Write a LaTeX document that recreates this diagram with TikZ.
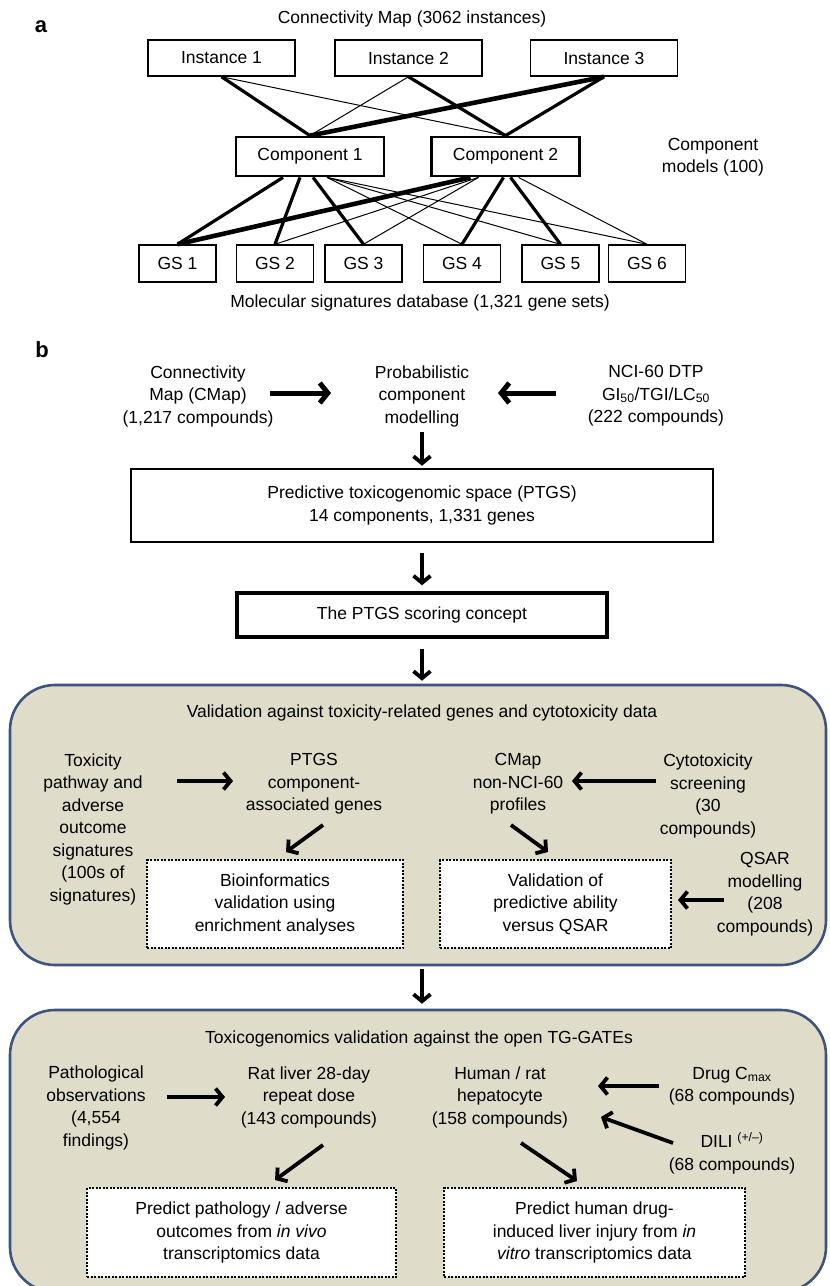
\documentclass[tikz,border=0pt]{standalone}
\usepackage{fontspec}
\setmainfont{Liberation Sans}
\usetikzlibrary{arrows.meta}

\definecolor{panelfill}{RGB}{223,220,202}
\definecolor{panelline}{RGB}{62,84,125}

\tikzset{
  lbl/.style={font=\fontsize{17.5}{22.5}\selectfont, align=center, inner sep=0pt},
  tag/.style={font=\fontsize{22}{22}\selectfont\bfseries, inner sep=0pt},
  inst/.style={lbl, draw, line width=1.5pt, minimum width=147pt, minimum height=36pt},
  comp/.style={lbl, draw, line width=2.8pt, minimum width=148pt, minimum height=39pt},
  gs/.style={lbl, draw, line width=1.5pt, minimum width=77pt, minimum height=37pt},
  linkweak/.style={line width=1pt},
  linkstrong/.style={line width=3.2pt},
  linkmax/.style={line width=4.6pt},
  panel/.style={draw=panelline, fill=panelfill, line width=2.6pt, rounded corners=45pt, inner sep=0pt},
  dotbox/.style={lbl, draw, fill=white, line width=2pt, dash pattern=on 2pt off 1.5pt},
  arr/.style={line width=3.8pt, -{Straight Barb[length=7pt,width=17pt]}},
  bigarr/.style={line width=5pt, -{Straight Barb[length=8pt,width=20pt]}}
}

\begin{document}
\begin{tikzpicture}[x=1pt,y=-1pt]
\useasboundingbox (0,0) rectangle (830,1286);

% panel a
\node[tag] (taga) at (41,27) {a};
\node[lbl] (cmaptitle) at (412,19) {Connectivity Map (3062 instances)};
\node[inst] (i1) at (221.5,58) {Instance 1};
\node[inst] (i2) at (408.5,58) {Instance 2};
\node[inst] (i3) at (604,58) {Instance 3};
\node[comp] (c1) at (310,156.5) {Component 1};
\node[comp] (c2) at (505.5,156.5) {Component 2};
\node[lbl] (compmodels) at (713,157) {Component\\models (100)};
\node[gs] (g1) at (177.5,263.5) {GS 1};
\node[gs] (g2) at (275,263.5) {GS 2};
\node[gs] (g3) at (363.5,263.5) {GS 3};
\node[gs] (g4) at (462,263.5) {GS 4};
\node[gs] (g5) at (560.5,263.5) {GS 5};
\node[gs] (g6) at (647,263.5) {GS 6};
\node[lbl] (msigdb) at (420,303) {Molecular signatures database (1,321 gene sets)};

\draw[linkstrong] (i1.south) -- (c1.north);
\draw[linkweak] (i1.south) -- (c2.north);
\draw[linkweak] (i2.south) -- (c1.north);
\draw[linkstrong] (i2.south) -- (c2.north);
\draw[linkmax] (i3.south) -- (c1.north);
\draw[linkstrong] (i3.south) -- (c2.north);

\draw[linkstrong] ([xshift=-27pt]c1.south) -- (g1.north);
\draw[linkstrong] ([xshift=-10pt]c1.south) -- (g2.north);
\draw[linkstrong] ([xshift=3pt]c1.south) -- (g3.north);
\draw[linkweak] ([xshift=17pt]c1.south) -- (g4.north);
\draw[linkweak] ([xshift=17pt]c1.south) -- (g5.north);
\draw[linkweak] ([xshift=17pt]c1.south) -- (g6.north);
\draw[linkmax] ([xshift=-35pt]c2.south) -- (g1.north);
\draw[linkweak] ([xshift=-27pt]c2.south) -- (g2.north);
\draw[linkweak] ([xshift=-27pt]c2.south) -- (g3.north);
\draw[linkstrong] ([xshift=-2pt]c2.south) -- (g4.north);
\draw[linkstrong] ([xshift=5pt]c2.south) -- (g5.north);
\draw[linkweak] ([xshift=13pt]c2.south) -- (g6.north);

% panel b
\node[tag] (tagb) at (42,350) {b};
\node[lbl] (cmap) at (198,396) {Connectivity\\Map (CMap)\\(1,217 compounds)};
\node[lbl] (pcm) at (422,396) {Probabilistic\\component\\modelling};
\node[lbl] (nci) at (656,396) {NCI-60 DTP\\GI\textsubscript{50}/TGI/LC\textsubscript{50}\\(222 compounds)};
\node[lbl, draw, line width=2.5pt, minimum width=582pt, minimum height=73pt] (ptgs) at (422,505.5)
  {Predictive toxicogenomic space (PTGS)\\14 components, 1,331 genes};
\node[lbl, draw, line width=3.5pt, minimum width=370pt, minimum height=44pt] (score) at (422,615)
  {The PTGS scoring concept};

\draw[bigarr] ([xshift=72pt,yshift=3pt]cmap.center) -- ([xshift=-91pt,yshift=3pt]pcm.center);
\draw[bigarr] ([xshift=-100pt,yshift=3pt]nci.center) -- ([xshift=76pt,yshift=3pt]pcm.center);
\draw[arr] ([yshift=-36pt]pcm.center) -- ([yshift=2pt]ptgs.north);
\draw[arr] ([yshift=-10pt]ptgs.south) -- ([yshift=6pt]score.north);

% validation panel
\node[panel, minimum width=816pt, minimum height=280pt] (valpanel) at (418,825) {};
\draw[arr] ([yshift=-10pt]score.south) -- ([xshift=4pt,yshift=3pt]valpanel.north);
\node[lbl] (valtitle) at (422,713) {Validation against toxicity-related genes and cytotoxicity data};
\node[lbl] (tox) at (93,829) {Toxicity\\pathway and\\adverse\\outcome\\signatures\\(100s of\\signatures)};
\node[lbl] (ptgsg) at (314,784) {PTGS\\component-\\associated genes};
\node[lbl] (cmapnon) at (518,784) {CMap\\non-NCI-60\\profiles};
\node[lbl] (cyto) at (708,796) {Cytotoxicity\\screening\\(30\\compounds)};
\node[dotbox, minimum width=256pt, minimum height=88pt] (bio) at (275,904)
  {Bioinformatics\\validation using\\enrichment analyses};
\node[dotbox, minimum width=231pt, minimum height=88pt] (valq) at (555.5,904)
  {Validation of\\predictive ability\\versus QSAR};
\node[lbl] (qsar) at (765,894) {QSAR\\modelling\\(208\\compounds)};

\draw[arr] ([xshift=84pt,yshift=48pt]tox.center) -- ([xshift=-81pt,yshift=3pt]ptgsg.center);
\draw[arr] ([xshift=9pt,yshift=-41pt]ptgsg.center) -- ([xshift=11pt,yshift=7pt]bio.north);
\draw[arr] ([xshift=-52pt,yshift=15pt]cyto.center) -- ([xshift=54pt,yshift=3pt]cmapnon.center);
\draw[arr] ([xshift=-7pt,yshift=-41pt]cmapnon.center) -- ([xshift=-7.5pt,yshift=7pt]valq.north);
\draw[arr] ([xshift=-41pt,yshift=-6pt]qsar.center) -- ([xshift=6pt,yshift=4pt]valq.east);

% TG-GATEs panel
\node[panel, minimum width=816pt, minimum height=282pt] (tgpanel) at (418,1151) {};
\draw[arr] ([xshift=4pt,yshift=-3pt]valpanel.south) -- ([xshift=4pt,yshift=5pt]tgpanel.north);
\node[lbl] (tgtitle) at (419,1039) {Toxicogenomics validation against the open TG-GATEs};
\node[lbl] (patho) at (96,1108) {Pathological\\observations\\(4,554\\findings)};
\node[lbl] (rat) at (309,1097) {Rat liver 28-day\\repeat dose\\(143 compounds)};
\node[lbl] (human) at (500,1097) {Human / rat\\hepatocyte\\(158 compounds)};
\node[lbl] (drug) at (732,1086) {Drug C\textsubscript{max}\\(68 compounds)};
\node[lbl] (dili) at (732,1153) {DILI \textsuperscript{(+/\textendash)}\\(68 compounds)};
\node[dotbox, minimum width=309pt, minimum height=89pt] (pred1) at (241.5,1232.5)
  {Predict pathology / adverse\\outcomes from \textit{in vivo}\\transcriptomics data};
\node[dotbox, minimum width=301pt, minimum height=89pt] (pred2) at (594.5,1232.5)
  {Predict human drug-\\induced liver injury from \textit{in}\\\textit{vitro} transcriptomics data};

\draw[arr] ([xshift=71pt,yshift=11pt]patho.center) -- ([xshift=-84pt]rat.center);
\draw[arr] ([xshift=14pt,yshift=-48pt]rat.center) -- ([xshift=33.5pt,yshift=7pt]pred1.north);
\draw[arr] ([xshift=-73pt]drug.center) -- ([xshift=98pt,yshift=11pt]human.center);
\draw[arr] ([xshift=-59pt,yshift=10pt]dili.center) -- ([xshift=101pt,yshift=-20pt]human.center);
\draw[arr] ([xshift=21pt,yshift=-46pt]human.center) -- ([xshift=-17.5pt,yshift=6pt]pred2.north);
\end{tikzpicture}
\end{document}
